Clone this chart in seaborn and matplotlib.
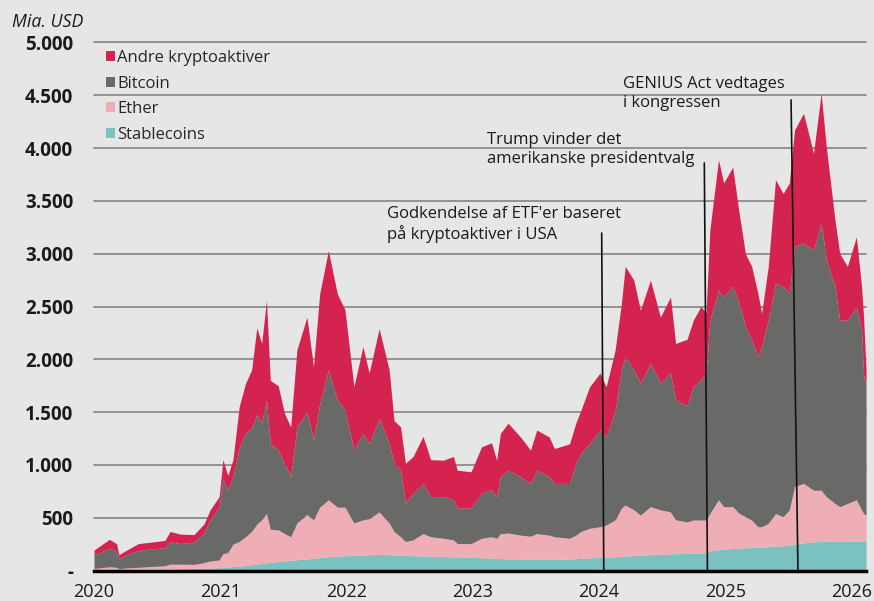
import matplotlib
matplotlib.use("Agg")
import matplotlib.pyplot as plt
import seaborn as sns
import pandas as pd
from matplotlib.patches import Patch
import matplotlib.dates as mdates
from matplotlib.ticker import FuncFormatter

# market value, billion USD
dates = [
    "2020-01-01", "2020-02-14", "2020-03-06", "2020-03-13", "2020-04-05", "2020-05-08",
    "2020-06-17", "2020-07-24", "2020-08-08", "2020-09-06", "2020-10-16", "2020-11-14",
    "2020-12-02", "2020-12-28", "2021-01-08", "2021-01-22", "2021-02-06", "2021-02-24",
    "2021-03-14", "2021-04-01", "2021-04-16", "2021-04-30", "2021-05-14", "2021-05-25",
    "2021-06-17", "2021-07-05", "2021-07-23", "2021-08-10", "2021-09-08", "2021-09-27",
    "2021-10-15", "2021-11-09", "2021-12-05", "2021-12-27", "2022-01-22", "2022-02-17",
    "2022-03-07", "2022-04-05", "2022-05-04", "2022-05-18", "2022-06-06", "2022-06-20",
    "2022-07-12", "2022-08-10", "2022-09-01", "2022-10-08", "2022-11-06", "2022-11-17",
    "2022-12-27", "2023-01-26", "2023-02-24", "2023-03-11", "2023-03-22", "2023-04-13",
    "2023-05-19", "2023-06-17", "2023-07-05", "2023-08-10", "2023-08-25", "2023-10-08",
    "2023-10-26", "2023-11-10", "2023-12-05", "2024-01-04", "2024-01-22", "2024-02-17",
    "2024-03-06", "2024-03-17", "2024-04-11", "2024-04-30", "2024-05-29", "2024-06-27",
    "2024-07-26", "2024-08-10", "2024-09-12", "2024-09-30", "2024-10-22", "2024-11-06",
    "2024-11-17", "2024-12-12", "2024-12-27", "2025-01-22", "2025-02-10", "2025-02-28",
    "2025-03-18", "2025-04-05", "2025-04-16", "2025-05-05", "2025-05-26", "2025-06-17",
    "2025-07-05", "2025-07-20", "2025-08-15", "2025-09-13", "2025-10-05", "2025-10-20",
    "2025-11-14", "2025-11-28", "2025-12-20", "2026-01-15", "2026-01-30", "2026-02-05",
    "2026-02-12",
]
stablecoins = [
    4, 5, 6, 6, 8, 10, 12, 14, 15, 17, 20, 22, 24, 28, 30, 33, 37, 42,
    48, 55, 60, 65, 72, 78, 85, 92, 96, 102, 110, 115, 122, 130, 136, 140,
    145, 148, 150, 152, 150, 148, 146, 143, 140, 138, 136, 133, 130, 128, 125, 122,
    118, 115, 113, 111, 110, 108, 108, 108, 108, 110, 112, 115, 120, 125, 128, 132,
    136, 138, 142, 146, 150, 154, 158, 160, 163, 165, 166, 168, 185, 198, 202, 208,
    212, 215, 218, 220, 222, 225, 230, 235, 240, 250, 262, 270, 275, 277, 278, 278,
    278, 277, 276, 275, 275,
]
ether = [
    16, 30, 24, 12, 17, 20, 26, 31, 45, 43, 38, 53, 66, 72, 130, 137, 213, 233,
    272, 315, 380, 415, 468, 312, 300, 258, 224, 348, 420, 365, 478, 540, 464, 460,
    305, 332, 340, 403, 300, 222, 174, 132, 150, 212, 184, 172, 160, 127, 130, 183,
    202, 190, 237, 244, 225, 217, 242, 227, 212, 195, 223, 255, 280, 290, 302, 348,
    454, 482, 433, 379, 455, 421, 397, 320, 297, 313, 312, 310, 355, 472, 403, 397,
    328, 295, 260, 195, 193, 222, 310, 275, 335, 545, 563, 490, 485, 423, 357, 327,
    357, 393, 299, 265, 250,
]
bitcoin = [
    127, 175, 150, 97, 125, 160, 167, 170, 215, 195, 212, 280, 390, 505, 710, 590, 640, 885,
    980, 980, 1040, 920, 1070, 810, 755, 665, 570, 910, 970, 760, 980, 1230, 1015, 920,
    690, 820, 710, 885, 750, 645, 630, 365, 440, 475, 380, 395, 380, 335, 335, 425,
    445, 395, 540, 595, 555, 500, 600, 555, 505, 520, 680, 740, 805, 915, 835, 1040,
    1310, 1405, 1325, 1250, 1355, 1200, 1315, 1135, 1100, 1262, 1327, 1392, 1830, 1985, 1985, 2085,
    1990, 1800, 1707, 1610, 1705, 1923, 2180, 2180, 2050, 2275, 2275, 2275, 2530, 2240, 2055, 1765,
    1735, 1830, 1705, 1310, 1235,
]
andre = [
    47, 85, 75, 35, 45, 65, 65, 70, 95, 90, 70, 85, 95, 95, 180, 140, 160, 390,
    470, 550, 820, 750, 950, 600, 610, 475, 470, 730, 900, 690, 1040, 1130, 1005, 950,
    600, 820, 670, 850, 700, 405, 410, 375, 350, 445, 350, 345, 410, 360, 345, 440,
    445, 345, 410, 445, 375, 315, 380, 375, 330, 375, 380, 410, 535, 540, 475, 570,
    630, 855, 850, 690, 790, 625, 720, 535, 630, 630, 695, 570, 855, 1235, 1080, 1130,
    850, 690, 695, 600, 315, 510, 980, 880, 1045, 1100, 1230, 915, 1230, 1070, 630, 630,
    510, 660, 410, 540, 140,
]

series_names = ["Stablecoins", "Ether", "Bitcoin", "Andre kryptoaktiver"]
colors = ["#7bc1bf", "#efadb6", "#696a67", "#d4234f"]

# events: (label, x at top, x at bottom, top of line, text x, text top)
events = [
    ("Godkendelse af ETF'er baseret\npå kryptoaktiver i USA", "2024-01-09", "2024-01-15", 3196, "2022-04-27", 3450),
    ("Trump vinder det\namerikanske presidentvalg", "2024-11-01", "2024-11-10", 3859, "2023-02-12", 4150),
    ("GENIUS Act vedtages\ni kongressen", "2025-07-10", "2025-07-30", 4456, "2024-03-10", 4680),
]

bg = "#e6e6e6"
sns.set_theme(style="white", rc={"axes.facecolor": bg, "figure.facecolor": bg})
plt.rcParams["font.family"] = ["Open Sans", "DejaVu Sans"]

x = pd.to_datetime(dates)

fig = plt.figure(figsize=(8.74, 6.01), dpi=100)
ax = fig.add_axes([0.1076, 0.0507, 0.8833, 0.8786])
ax.set_facecolor(bg)

ax.stackplot(x, stablecoins, ether, bitcoin, andre, colors=colors, linewidth=0, zorder=2)

ax.set_ylim(0, 5000)
ax.set_xlim(pd.Timestamp("2020-01-01"), pd.Timestamp("2026-02-12"))
ax.set_yticks(range(0, 5001, 500))
ax.yaxis.set_major_formatter(FuncFormatter(lambda v, p: "-" if v == 0 else f"{int(v):,}".replace(",", ".")))
for v in range(500, 5001, 500):
    ax.axhline(v, color="#8c8c8c", lw=1.3, zorder=1, clip_on=False)

ax.xaxis.set_major_locator(mdates.YearLocator())
ax.xaxis.set_major_formatter(mdates.DateFormatter("%Y"))

sns.despine(ax=ax, left=True, top=True, right=True)
ax.spines["bottom"].set_color("black")
ax.spines["bottom"].set_linewidth(2.5)
ax.spines["bottom"].set_zorder(5)
ax.tick_params(axis="x", direction="in", length=5, width=2.2, color="black",
               labelsize=13, labelcolor="#1a1a1a", pad=9)
ax.tick_params(axis="y", length=0, labelsize=13.5, labelcolor="#1a1a1a", pad=15)
for lbl in ax.get_yticklabels():
    lbl.set_fontweight("bold")

for label, xt, xb, ytop, tx, ty in events:
    ax.plot([pd.Timestamp(xt), pd.Timestamp(xb)], [ytop, 0], color="#111111", lw=1.2, zorder=4)
    ax.text(pd.Timestamp(tx), ty, label, fontsize=12, color="#1a1a1a", va="top", ha="left",
            linespacing=1.2)

handles = [Patch(facecolor=c, edgecolor="none") for c in colors][::-1]
ax.legend(handles, series_names[::-1], loc="upper left", bbox_to_anchor=(0.0, 1.008),
          frameon=False, fontsize=12, handlelength=0.55, handleheight=0.55,
          handletextpad=0.15, labelspacing=0.58, borderaxespad=0.3)

fig.text(0.014, 0.963, "Mia. USD", fontsize=12.8, style="italic", color="#1a1a1a", va="center")

fig.savefig("out.png", dpi=100, facecolor=bg)
